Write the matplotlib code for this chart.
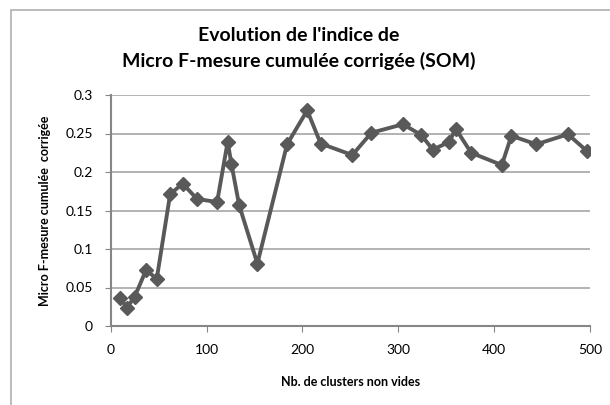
import matplotlib
matplotlib.use("Agg")
import matplotlib.pyplot as plt
from matplotlib.patches import Rectangle

# nombre de clusters non vides / micro F-mesure cumulee corrigee
nb_clusters = [10, 17, 25, 37, 48, 62, 75, 90, 111, 122, 126, 134, 153, 184, 205,
               219, 252, 272, 305, 324, 336, 353, 360, 376, 408, 418, 444, 477, 497]
f_mesure = [0.036, 0.024, 0.038, 0.073, 0.061, 0.171, 0.185, 0.165, 0.161, 0.239,
            0.210, 0.157, 0.081, 0.236, 0.280, 0.237, 0.222, 0.251, 0.262, 0.248,
            0.229, 0.239, 0.256, 0.225, 0.209, 0.247, 0.236, 0.249, 0.227]
x_ticks = [0, 100, 200, 300, 400, 500]
y_ticks = [0, 0.05, 0.1, 0.15, 0.2, 0.25, 0.3]

plt.rcParams['font.family'] = ['Lato', 'DejaVu Sans']

fig = plt.figure(figsize=(6.1, 4.05), dpi=100)
fig.patches.append(Rectangle((11/610, -0.1), 1.2, 1.1 - 10/405, transform=fig.transFigure,
                             fill=False, edgecolor='#b0b0b0', linewidth=1.2))
ax = fig.add_axes([110.7/610, 79/405, (590-110.7)/610, 231/405])

ax.plot(nb_clusters, f_mesure, color='#595959', linewidth=2.8, marker='D',
        markersize=7.5, markerfacecolor='#595959', markeredgecolor='#595959', zorder=3)

ax.set_xlim(0, 500)
ax.set_ylim(0, 0.3)
ax.set_xticks(x_ticks)
ax.set_yticks(y_ticks)
ax.set_yticklabels(['0', '0.05', '0.1', '0.15', '0.2', '0.25', '0.3'])
ax.tick_params(labelsize=10, colors='#868686', labelcolor='black', length=4, pad=9)
ax.grid(True, axis='y', color='#a6a6a6', linewidth=1.2)
ax.set_axisbelow(True)
for s in ['top', 'right']:
    ax.spines[s].set_visible(False)
for s in ['left', 'bottom']:
    ax.spines[s].set_color('#868686')
    ax.spines[s].set_linewidth(1.5)

ax.set_xlabel("Nb. de clusters non vides", fontsize=9, fontweight='bold', labelpad=14)
ax.set_ylabel("Micro F-mesure cumulée  corrigée", fontsize=9, fontweight='bold', labelpad=10)
fig.text(0.49, (405-48.5)/405, "Evolution de l'indice de\nMicro F-mesure cumulée corrigée (SOM)",
         ha='center', va='center', fontsize=14, fontweight='bold', linespacing=1.55)

fig.savefig("out.png", dpi=100)
